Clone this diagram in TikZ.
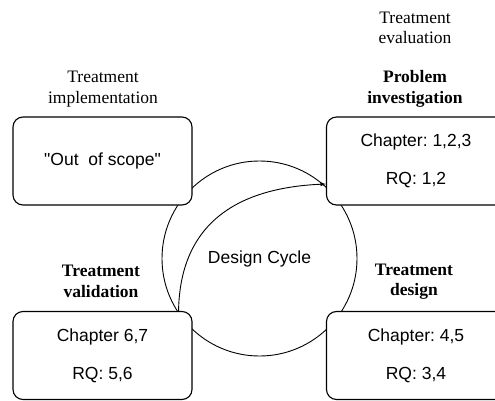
\documentclass[tikz,border=0pt]{standalone}
\usepackage{fontspec}
\setmainfont{Liberation Serif}
\setsansfont{Liberation Sans}[Ligatures=TeXOff]
\usetikzlibrary{arrows.meta}
\tikzset{>=latex}
\frenchspacing
\tikzset{phase/.style = {shape=rectangle,draw,fill=white,rounded corners=10pt,line width=1.1pt,
    minimum width=179pt,minimum height=88pt,align=center,
    font=\sffamily\fontsize{17.5}{38}\selectfont}}
\tikzset{steplabel/.style = {align=center,font=\fontsize{17.5}{20.5}\selectfont}}

\begin{document}
\begin{tikzpicture}[x=1pt,y=-1pt]
                \useasboundingbox (0,0) rectangle (495,401);

                \node[circle,draw,line width=0.9pt,minimum size=195pt,
                      font=\sffamily\fontsize{17.5}{21}\selectfont] (cycle) at (259.5,258.5) {Design Cycle};

                \node[phase] (impl) at (102.5,161) {"Out\ \ of scope"};
                \node[phase] (prob) at (416,161) {Chapter: 1,2,3\\RQ: 1,2};
                \node[phase] (valid) at (102.5,355.5) {Chapter 6,7\\RQ: 5,6};
                \node[phase] (design) at (416,355.5) {Chapter: 4,5\\RQ: 3,4};

                \node[steplabel] (evallabel) at (415,28) {Treatment\\evaluation};
                \node[steplabel] (impllabel) at (103,89) {Treatment\\implementation};
                \node[steplabel,font=\bfseries\fontsize{17.5}{20.5}\selectfont] (problabel) at (415,89) {Problem\\investigation};
                \node[steplabel,font=\bfseries\fontsize{17.5}{20.5}\selectfont] (validlabel) at (101,281.5) {Treatment\\validation};
                \node[steplabel,font=\bfseries\fontsize{17.5}{20.5}\selectfont] (designlabel) at (414,281.5) {Treatment\\design};

                \coordinate (arrstart) at ([xshift=-14pt]valid.north east);
                \coordinate (arrend) at ([yshift=-23pt]prob.west);
                \draw[->,line width=0.9pt] (arrstart) .. controls (180,225) and (235,188) .. (arrend);
            \end{tikzpicture}
\end{document}
